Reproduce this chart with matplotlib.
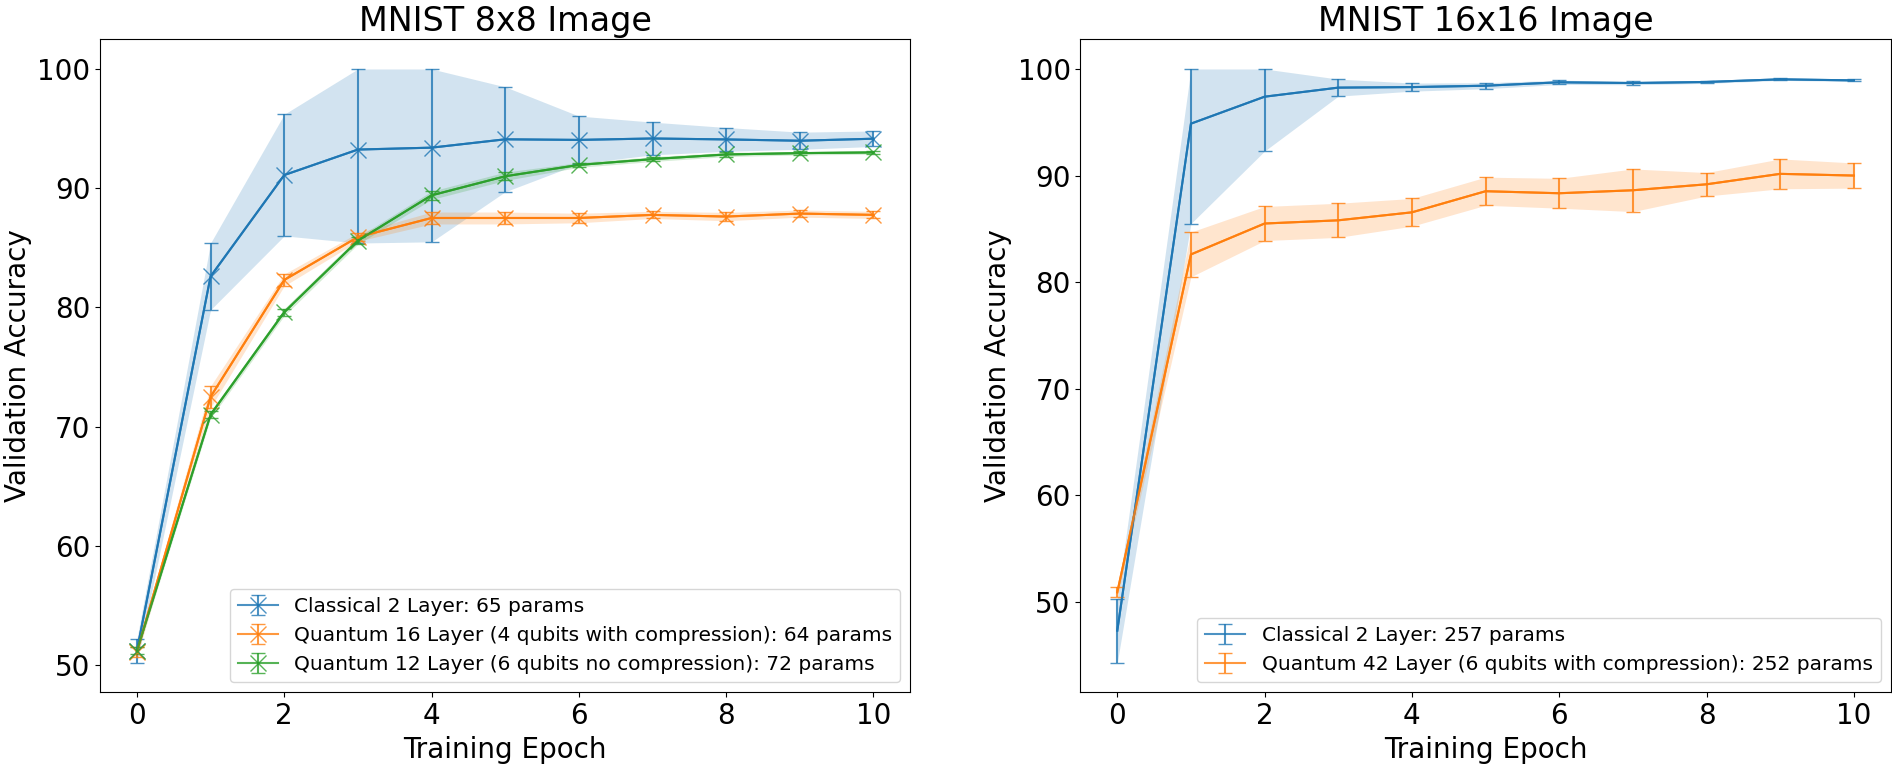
import numpy as np
import matplotlib
matplotlib.use("Agg")
import matplotlib.pyplot as plt

epochs = np.arange(0, 11)

# MNIST 8x8 - media e desvio padrao da acuracia de validacao
c8_mean = [51.2, 82.6, 91.1, 93.24, 93.4, 94.1, 94.05, 94.17, 94.09, 93.98, 94.15]
c8_std = [1.0, 2.8, 5.1, 7.84, 7.9, 4.4, 2.0, 1.37, 1.0, 0.72, 0.65]
q16_mean = [51.1, 72.5, 82.3, 85.9, 87.5, 87.5, 87.5, 87.76, 87.62, 87.87, 87.76]
q16_std = [0.4, 0.9, 0.5, 0.35, 0.5, 0.5, 0.4, 0.3, 0.35, 0.3, 0.3]
q12_mean = [51.2, 71.0, 79.6, 85.6, 89.4, 91.0, 91.95, 92.44, 92.83, 92.94, 93.0]
q12_std = [0.3, 0.3, 0.3, 0.3, 0.35, 0.35, 0.2, 0.2, 0.18, 0.15, 0.15]

# MNIST 16x16
c16_mean = [47.3, 94.87, 97.4, 98.25, 98.3, 98.43, 98.75, 98.68, 98.78, 99.03, 98.93]
c16_std = [3.0, 9.37, 5.1, 0.8, 0.38, 0.28, 0.2, 0.16, 0.13, 0.1, 0.1]
q42_mean = [50.9, 82.6, 85.5, 85.8, 86.55, 88.53, 88.34, 88.62, 89.18, 90.16, 90.0]
q42_std = [0.45, 2.1, 1.6, 1.6, 1.3, 1.32, 1.4, 2.0, 1.1, 1.4, 1.18]

labels_8 = ["Classical 2 Layer: 65 params",
            "Quantum 16 Layer (4 qubits with compression): 64 params",
            "Quantum 12 Layer (6 qubits no compression): 72 params"]
labels_16 = ["Classical 2 Layer: 257 params",
             "Quantum 42 Layer (6 qubits with compression): 252 params"]


def plot_series(ax, mean, std, color, label, marker=None):
    mean = np.array(mean)
    std = np.array(std)
    # acuracia nao passa de 100
    upper = np.minimum(mean + std, 100)
    lower = mean - std
    ax.fill_between(epochs, lower, upper, color=color, alpha=0.2, linewidth=0)
    ax.plot(epochs, mean, color=color, linewidth=1.5)
    ax.errorbar(epochs, mean, yerr=[mean - lower, upper - mean], color=color,
                alpha=0.8, capsize=5, marker=marker, markersize=12,
                linewidth=1.5, label=label)


plt.rcParams['font.family'] = ['DejaVu Sans']
fig, (ax1, ax2) = plt.subplots(1, 2, figsize=(18.92, 7.66), dpi=100)
fig.subplots_adjust(left=0.0529, right=0.9993, bottom=0.0962, top=0.9487, wspace=0.21)

plot_series(ax1, c8_mean, c8_std, 'C0', labels_8[0], marker='x')
plot_series(ax1, q16_mean, q16_std, 'C1', labels_8[1], marker='x')
plot_series(ax1, q12_mean, q12_std, 'C2', labels_8[2], marker='x')

plot_series(ax2, c16_mean, c16_std, 'C0', labels_16[0])
plot_series(ax2, q42_mean, q42_std, 'C1', labels_16[1])

for ax, title in [(ax1, "MNIST 8x8 Image"), (ax2, "MNIST 16x16 Image")]:
    ax.set_title(title, fontsize=24)
    ax.set_xlabel("Training Epoch", fontsize=20)
    ax.set_ylabel("Validation Accuracy", fontsize=20)
    ax.tick_params(labelsize=20)
    ax.set_xticks([0, 2, 4, 6, 8, 10])
    ax.legend(loc='lower right', fontsize=14.5)

plt.savefig("out.png", dpi=100)
